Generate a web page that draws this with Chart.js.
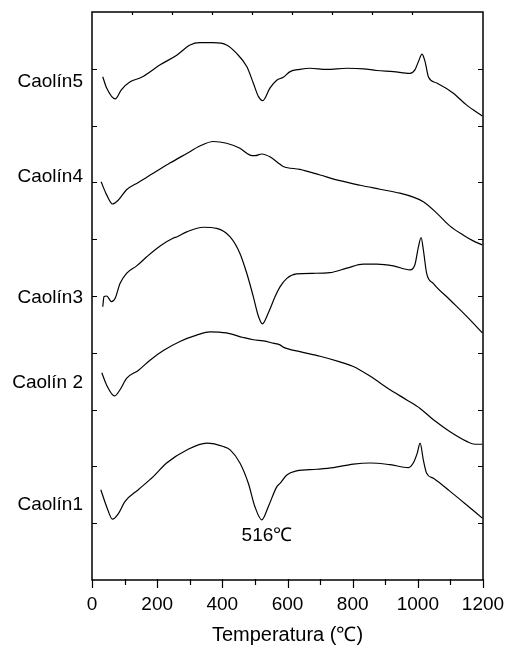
<!DOCTYPE html>
<html>
<head>
    <meta charset="utf-8">
    <title>Caolín DTA</title>
    <style>
        body {
            margin: 0;
            background: #fff;
        }
        #wrap {
            width: 510px;
            height: 645px;
        }
    </style>
    <script src="https://cdn.jsdelivr.net/npm/chart.js@4.4.1/dist/chart.umd.min.js"></script>
</head>
<body>
    <div id="wrap"><canvas id="dta" width="510" height="645"></canvas></div>
    <script>
        // temperatures (°C) and signal (arbitrary units, stacked curves)
        const t5 = [33, 45, 71, 90, 117, 152, 209, 260, 301, 331, 372, 413, 444, 475, 495, 511, 524, 546, 567, 587, 608, 638, 669, 720, 782, 833, 874, 925, 976, 991, 1002, 1013, 1022, 1033, 1058, 1109, 1150, 1198];
        const v5 = [88.6, 86.6, 84.7, 86.3, 87.7, 88.5, 90.7, 92.4, 94.2, 94.6, 94.6, 94.2, 92.7, 90.4, 87.5, 85.1, 84.4, 86.6, 88.0, 88.5, 89.5, 89.9, 90.1, 89.9, 90.1, 90.0, 89.7, 89.5, 89.2, 89.8, 91.3, 92.6, 91.3, 88.5, 87.5, 85.7, 83.6, 81.7];

        const t4 = [28, 45, 63, 81, 106, 142, 188, 239, 291, 331, 372, 413, 454, 485, 500, 521, 546, 577, 587, 638, 700, 761, 823, 884, 945, 986, 1017, 1058, 1099, 1140, 1170, 1198];
        const v4 = [70.1, 67.8, 66.2, 66.9, 68.7, 70.0, 71.6, 73.4, 75.1, 76.4, 77.2, 76.9, 76.0, 74.8, 74.7, 75.0, 74.5, 73.2, 72.8, 72.3, 71.3, 70.3, 69.5, 68.8, 68.1, 67.4, 66.6, 64.6, 62.3, 60.7, 59.7, 59.0];

        const t3 = [33, 37, 45, 60, 71, 86, 106, 137, 168, 209, 250, 260, 291, 342, 383, 424, 454, 475, 495, 511, 523, 541, 562, 577, 598, 628, 679, 730, 782, 833, 874, 925, 976, 991, 1002, 1010, 1017, 1027, 1048, 1099, 1150, 1198];
        const v3 = [48.1, 49.9, 50.0, 49.0, 49.6, 52.2, 54.0, 55.3, 56.9, 58.8, 60.2, 60.4, 61.3, 62.1, 61.9, 60.4, 57.5, 54.0, 49.9, 46.4, 45.1, 47.0, 49.9, 51.6, 53.1, 53.9, 54.0, 54.1, 54.9, 55.6, 55.6, 55.3, 54.6, 55.5, 58.7, 60.3, 58.1, 54.0, 52.2, 49.3, 46.4, 43.5];

        const t2 = [30, 45, 69, 86, 106, 142, 178, 219, 270, 321, 362, 413, 464, 495, 526, 556, 577, 587, 638, 700, 761, 802, 853, 915, 966, 1007, 1048, 1099, 1150, 1176, 1198];
        const v2 = [36.5, 34.3, 32.4, 33.5, 35.5, 36.9, 38.7, 40.4, 42.0, 43.1, 43.7, 43.5, 42.7, 42.3, 42.1, 41.7, 41.4, 41.0, 40.2, 39.4, 38.4, 37.6, 35.9, 33.5, 31.7, 30.2, 28.2, 26.1, 24.4, 23.9, 23.9];

        const t1 = [27, 45, 63, 81, 101, 142, 188, 229, 291, 352, 403, 424, 454, 480, 500, 521, 541, 567, 577, 598, 628, 690, 741, 802, 853, 915, 971, 986, 998, 1007, 1017, 1027, 1048, 1099, 1150, 1198];
        const v1 = [15.9, 12.9, 10.7, 11.7, 13.8, 15.9, 18.2, 20.6, 22.9, 24.1, 23.5, 22.9, 20.6, 17.0, 12.9, 10.6, 12.9, 16.4, 17.0, 18.5, 19.2, 19.5, 19.8, 20.4, 20.6, 20.3, 19.8, 20.6, 22.3, 24.1, 21.1, 18.8, 17.9, 15.6, 13.2, 10.9];

        const sampleNames = ['Caolín5', 'Caolín4', 'Caolín3', 'Caolín 2', 'Caolín1'];
        const sampleLabelPos = [87.7, 71.0, 49.7, 34.7, 13.2];
        const xTicks = [0, 200, 400, 600, 800, 1000, 1200];
        const peakNote = { text: '516℃', t: 537, v: 7.8 };

        const FONT = '"Liberation Sans", Arial, sans-serif';

        function series(ts, vs) {
            return {
                data: ts.map((t, i) => ({ x: t, y: vs[i] })),
                borderColor: '#000',
                borderWidth: 1.2,
                pointRadius: 0,
                fill: false,
                cubicInterpolationMode: 'monotone'
            };
        }

        // fixed box sizes, no overflow padding from edge labels
        function fixBox(w, h) {
            return s => {
                if (w !== null) s.width = w;
                if (h !== null) s.height = h;
                s.paddingLeft = 0; s.paddingRight = 0;
                s.paddingTop = 0; s.paddingBottom = 0;
            };
        }

        const noGrid = { display: false, drawTicks: false };

        // frame, inward ticks and the peak note
        const framePlugin = {
            id: 'frame',
            afterDraw(chart) {
                const c = chart.ctx;
                const a = chart.chartArea;
                const xs = chart.scales.x, ys = chart.scales.y, xt = chart.scales.xTop;
                c.save();
                c.strokeStyle = '#000';
                c.lineWidth = 1.5;
                c.strokeRect(a.left, a.top, a.right - a.left, a.bottom - a.top);
                c.lineWidth = 1.2;
                c.beginPath();
                ys.ticks.forEach(tk => {
                    if (tk.value <= ys.min || tk.value >= ys.max) return;
                    const y = Math.round(ys.getPixelForValue(tk.value)) + 0.5;
                    c.moveTo(a.left, y); c.lineTo(a.left + 5, y);
                    c.moveTo(a.right, y); c.lineTo(a.right - 5, y);
                });
                xs.ticks.forEach(tk => {
                    const x = Math.round(xs.getPixelForValue(tk.value)) + 0.5;
                    const len = tk.value % 200 === 0 ? 8 : 5;
                    c.moveTo(x, a.bottom - 1); c.lineTo(x, a.bottom + len);
                });
                xt.ticks.forEach(tk => {
                    if (tk.value <= xt.min || tk.value >= xt.max) return;
                    const x = Math.round(xt.getPixelForValue(tk.value)) + 0.5;
                    c.moveTo(x, a.top); c.lineTo(x, a.top + 3);
                });
                c.stroke();
                c.fillStyle = '#000';
                c.font = '19px ' + FONT;
                c.textAlign = 'center';
                c.textBaseline = 'middle';
                c.fillText(peakNote.text, xs.getPixelForValue(peakNote.t), ys.getPixelForValue(peakNote.v));
                c.restore();
            }
        };

        new Chart(document.getElementById('dta'), {
            type: 'line',
            data: {
                datasets: [series(t5, v5), series(t4, v4), series(t3, v3), series(t2, v2), series(t1, v1)]
            },
            options: {
                responsive: false,
                animation: false,
                layout: { padding: 0 },
                plugins: {
                    legend: { display: false },
                    tooltip: { enabled: false }
                },
                scales: {
                    x: {
                        type: 'linear',
                        position: 'bottom',
                        min: 0,
                        max: 1200,
                        grid: noGrid,
                        border: { display: false },
                        ticks: {
                            stepSize: 100,
                            autoSkip: false,
                            maxRotation: 0,
                            padding: 13,
                            color: '#000',
                            font: { family: FONT, size: 19 },
                            callback: v => xTicks.includes(v) ? String(v) : ''
                        },
                        title: {
                            display: true,
                            text: 'Temperatura (℃)',
                            color: '#000',
                            font: { family: FONT, size: 20, lineHeight: 1 },
                            padding: { top: 0, bottom: 0 }
                        },
                        afterFit: fixBox(null, 65)
                    },
                    xTop: {
                        type: 'linear',
                        position: 'top',
                        min: 0,
                        max: 9.775,
                        grid: noGrid,
                        border: { display: false },
                        ticks: { display: false, stepSize: 1 },
                        afterFit: fixBox(null, 12)
                    },
                    names: {
                        type: 'linear',
                        position: 'left',
                        min: 0,
                        max: 100,
                        grid: noGrid,
                        border: { display: false },
                        afterBuildTicks: s => { s.ticks = sampleLabelPos.map(v => ({ value: v })); },
                        ticks: {
                            autoSkip: false,
                            padding: 9,
                            color: '#000',
                            font: { family: FONT, size: 19 },
                            callback: (v, i) => sampleNames[i]
                        },
                        afterFit: fixBox(92, null)
                    },
                    y: {
                        type: 'linear',
                        position: 'right',
                        min: 0,
                        max: 100,
                        grid: noGrid,
                        border: { display: false },
                        ticks: { display: false, stepSize: 10 },
                        afterFit: fixBox(27, null)
                    }
                }
            },
            plugins: [framePlugin]
        });
    </script>
</body>
</html>
